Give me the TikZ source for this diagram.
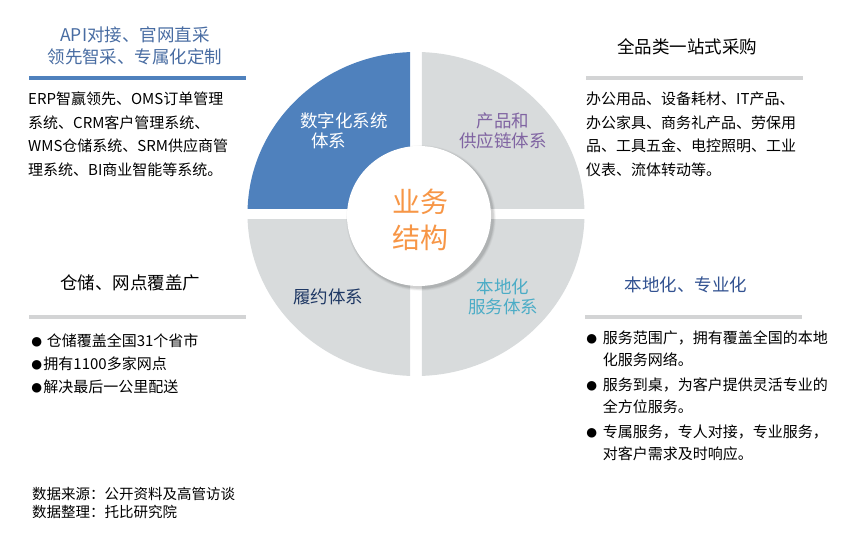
\documentclass[tikz,border=0pt]{standalone}
\usepackage{fontspec}
\setmainfont{Noto Sans CJK SC}
\newfontfamily\bulletfont{Liberation Sans}
\usepackage{tikz}
\usetikzlibrary{positioning}
\usepackage{xcolor}
\definecolor{Steel}{RGB}{79,129,189}
\definecolor{Mist}{RGB}{216,219,220}
\definecolor{Bar}{RGB}{211,212,213}
\definecolor{TitleBlue}{RGB}{72,108,162}
\definecolor{DeepBlue}{RGB}{50,82,145}
\definecolor{Navy}{RGB}{31,56,100}
\definecolor{Aqua}{RGB}{75,172,198}
\definecolor{Plum}{RGB}{128,100,162}
\definecolor{Amber}{RGB}{247,150,70}
\newcommand{\dotmark}{\raisebox{-1.5pt}{\bulletfont\fontsize{22}{15}\selectfont ●}}

\begin{document}
\begin{tikzpicture}[
      x=1pt, y=-1pt,
      title/.style={font=\fontsize{17.5}{22}\selectfont, align=center, inner sep=0pt},
      body/.style={font=\fontsize{15}{23.5}\selectfont, align=left,
                   anchor=north west, inner sep=0pt},
      lbl/.style={font=\fontsize{17.5}{20}\selectfont, align=center, inner sep=0pt},
      bar/.style={line width=4pt, Bar}
    ]
      \useasboundingbox (0,0) rectangle (855,535);

      % four quadrants of the ring
      \coordinate (c) at (416,214);
      \begin{scope}
        \clip (200,0) rectangle (410.2,208.2);
        \fill[Steel] (c) ellipse [x radius=168.5, y radius=162];
      \end{scope}
      \begin{scope}
        \clip (421.8,0) rectangle (700,208.2);
        \fill[Mist] (c) ellipse [x radius=168.5, y radius=162];
      \end{scope}
      \begin{scope}
        \clip (200,219.5) rectangle (410.2,400);
        \fill[Mist] (c) ellipse [x radius=168.5, y radius=162];
      \end{scope}
      \begin{scope}
        \clip (421.8,219.5) rectangle (700,400);
        \fill[Mist] (c) ellipse [x radius=168.5, y radius=162];
      \end{scope}

      % centre disc with a soft shadow
      \foreach \s/\o in {4/0.03, 3/0.04, 2/0.05, 1/0.07}
        \fill[black, opacity=\o] (421,218) ellipse [x radius=72+\s*0.7, y radius=70+\s*0.7];
      \fill[white] (419,216) ellipse [x radius=72, y radius=70];
      \node[font=\fontsize{28}{36}\selectfont, Amber, align=center, inner sep=0pt]
        (core) at (420,220) {业务\\结构};

      % quadrant labels
      \node[lbl, white, align=left, anchor=west] (digital) at (300,131)
        {数字化系统\\\hspace{11pt}体系};
      \node[lbl, Plum] (supply) at (503,131) {产品和\\供应链体系};
      \node[lbl, Navy] (fulfil) at (328,297) {履约体系};
      \node[lbl, Aqua] (local) at (503,297) {本地化\\服务体系};

      % top left
      \node[title, TitleBlue] (apititle) at (135,46) {API对接、官网直采\\领先智采、专属化定制};
      \coordinate (b1w) at (29,78);
      \coordinate (b1e) at (246,78);
      \draw[bar, Steel] (b1w) -- (b1e);
      \node[body] (erpbody) at (28,92)
        {ERP智赢领先、OMS订单管理\\系统、CRM客户管理系统、\\WMS仓储系统、SRM供应商管\\理系统、BI商业智能等系统。};

      % top right
      \node[title] (fulltitle) at (687,47) {全品类一站式采购};
      \coordinate (b2w) at (586,78);
      \coordinate (b2e) at (803,78);
      \draw[bar] (b2w) -- (b2e);
      \node[body] (fullbody) at (586,92)
        {办公用品、设备耗材、IT产品、\\办公家具、商务礼产品、劳保用\\品、工具五金、电控照明、工业\\仪表、流体转动等。};

      % bottom left
      \node[title] (storetitle) at (130,283) {仓储、网点覆盖广};
      \coordinate (b3w) at (29,317);
      \coordinate (b3e) at (246,317);
      \draw[bar] (b3w) -- (b3e);
      \node[body, font=\fontsize{15}{23}\selectfont] (storebody) at (30,334)
        {\dotmark\ 仓储覆盖全国31个省市\\\dotmark 拥有1100多家网点\\\dotmark 解决最后一公里配送};

      % bottom right
      \node[title, DeepBlue] (loctitle) at (686,285) {本地化、专业化};
      \coordinate (b4w) at (585,317);
      \coordinate (b4e) at (802,317);
      \draw[bar] (b4w) -- (b4e);
      \node[body, font=\fontsize{15}{22}\selectfont] (locbody) at (585,328)
        {\begin{tabular}{@{}l@{\hspace{4.5pt}}l@{}}
          \dotmark & 服务范围广，拥有覆盖全国的本地\\
                   & 化服务网络。\\[3pt]
          \dotmark & 服务到桌，为客户提供灵活专业的\\
                   & 全方位服务。\\[3pt]
          \dotmark & 专属服务，专人对接，专业服务，\\
                   & 对客户需求及时响应。
        \end{tabular}};

      % source note
      \node[body, font=\fontsize{14.5}{18}\selectfont] (src) at (32,487)
        {数据来源：公开资料及高管访谈\\数据整理：托比研究院};
    \end{tikzpicture}
\end{document}
